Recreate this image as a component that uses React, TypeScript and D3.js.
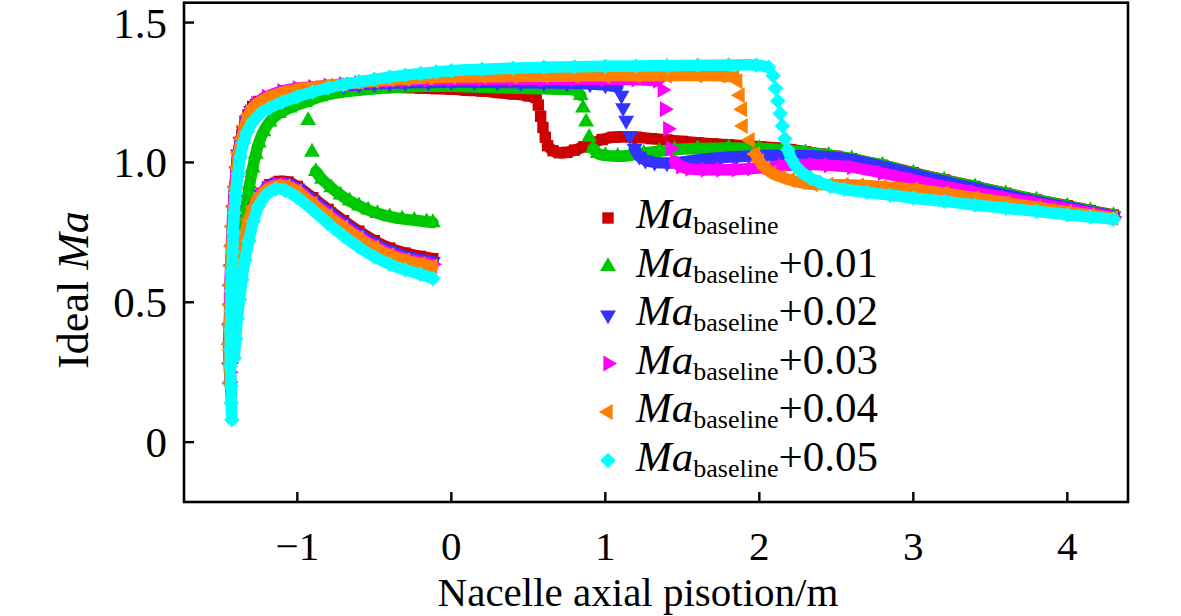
import React from 'react';
import * as d3 from 'd3';

type Pt = [number, number];

// ---- data (x: m, y: ideal Ma) ----
const X_TICKS = [-1, 0, 1, 2, 3, 4];
const X_TICK_LABELS = ['\u22121', '0', '1', '2', '3', '4'];
const Y_TICKS = [0, 0.5, 1.0, 1.5];
const Y_TICK_LABELS = ['0', '0.5', '1.0', '1.5'];
const LEGEND_SUFFIX = ['', '+0.01', '+0.02', '+0.03', '+0.04', '+0.05'];

const redPre: Pt[] = [[-1.43,0.18],[-1.435,0.25],[-1.435,0.32],[-1.435,0.39],[-1.435,0.46],[-1.43,0.53],[-1.43,0.6],[-1.425,0.67],[-1.42,0.74],[-1.415,0.81],[-1.41,0.88],[-1.4,0.95],[-1.39,1.01],[-1.375,1.06],[-1.36,1.1],[-1.34,1.14],[-1.32,1.17],[-1.29,1.2],[-1.25,1.218],[-1.2,1.23],[-1.1,1.245],[-1.0,1.255],[-0.9,1.26],[-0.8,1.263],[-0.7,1.266],[-0.6,1.268],[-0.5,1.27],[-0.4,1.27],[-0.3,1.268],[-0.2,1.266],[-0.1,1.264],[0,1.262],[0.1,1.258],[0.2,1.255],[0.3,1.25],[0.4,1.245],[0.5,1.238],[0.55,1.232]];
const redJump: Pt[] = [[0.565,1.205],[0.58,1.165],[0.595,1.125],[0.61,1.09]];
const redPost: Pt[] = [[0.625,1.06],[0.66,1.042],[0.7,1.035],[0.75,1.036],[0.8,1.044],[0.86,1.056],[0.92,1.07],[0.98,1.082],[1.05,1.09],[1.12,1.092],[1.2,1.09],[1.3,1.085],[1.4,1.08],[1.5,1.075],[1.6,1.07],[1.7,1.066],[1.8,1.063],[1.9,1.06],[2.0,1.056],[2.1,1.052],[2.2,1.046],[2.3,1.038],[2.4,1.03],[2.5,1.022],[2.6,1.013],[2.8,0.99],[3.0,0.963],[3.2,0.938],[3.4,0.914],[3.6,0.89],[3.8,0.866],[4.0,0.845],[4.15,0.828],[4.3,0.812]];
const redInner: Pt[] = [[-1.42,0.3],[-1.41,0.38],[-1.4,0.46],[-1.385,0.53],[-1.365,0.6],[-1.345,0.66],[-1.325,0.72],[-1.3,0.78],[-1.27,0.84],[-1.23,0.89],[-1.18,0.92],[-1.12,0.932],[-1.06,0.93],[-1.0,0.914],[-0.9,0.874],[-0.8,0.832],[-0.7,0.792],[-0.6,0.754],[-0.5,0.72],[-0.4,0.694],[-0.3,0.676],[-0.2,0.664],[-0.12,0.656]];

const greenPre: Pt[] = [[-1.395,0.5],[-1.385,0.57],[-1.372,0.64],[-1.36,0.71],[-1.345,0.78],[-1.33,0.85],[-1.31,0.92],[-1.29,0.98],[-1.27,1.03],[-1.25,1.07],[-1.22,1.11],[-1.18,1.145],[-1.12,1.175],[-1.05,1.195],[-0.95,1.215],[-0.85,1.235],[-0.75,1.248],[-0.6,1.258],[-0.45,1.265],[-0.3,1.27],[-0.15,1.272],[0,1.272],[0.15,1.27],[0.3,1.267],[0.45,1.265],[0.6,1.263],[0.7,1.262],[0.8,1.258],[0.84,1.24]];
const greenJump: Pt[] = [[0.855,1.195],[0.875,1.145],[0.895,1.09]];
const greenPost: Pt[] = [[0.92,1.05],[0.95,1.032],[1.0,1.025],[1.08,1.022],[1.16,1.025],[1.25,1.033],[1.35,1.04],[1.45,1.046],[1.6,1.05],[1.8,1.052],[2.0,1.05],[2.15,1.045],[2.3,1.036],[2.45,1.026],[2.6,1.013],[2.8,0.99],[3.0,0.962],[3.2,0.937],[3.4,0.913],[3.6,0.889],[3.8,0.866],[4.0,0.844],[4.15,0.827],[4.3,0.81]];
const greenInnerJump: Pt[] = [[-0.93,1.15],[-0.905,1.037]];
const greenInner: Pt[] = [[-0.88,0.968],[-0.84,0.94],[-0.78,0.91],[-0.72,0.884],[-0.66,0.862],[-0.6,0.845],[-0.54,0.83],[-0.48,0.818],[-0.4,0.806],[-0.32,0.798],[-0.24,0.793],[-0.16,0.788],[-0.12,0.785]];

const bluePre: Pt[] = [[-1.435,0.2],[-1.44,0.27],[-1.44,0.34],[-1.44,0.41],[-1.435,0.48],[-1.435,0.55],[-1.43,0.62],[-1.425,0.69],[-1.42,0.76],[-1.415,0.83],[-1.405,0.9],[-1.395,0.97],[-1.385,1.03],[-1.37,1.075],[-1.35,1.115],[-1.33,1.15],[-1.3,1.185],[-1.26,1.21],[-1.2,1.23],[-1.1,1.25],[-1.0,1.26],[-0.9,1.266],[-0.8,1.27],[-0.7,1.274],[-0.6,1.278],[-0.5,1.281],[-0.4,1.283],[-0.3,1.285],[-0.15,1.286],[0,1.287],[0.15,1.287],[0.3,1.286],[0.45,1.285],[0.6,1.284],[0.75,1.283],[0.9,1.28],[1.0,1.277],[1.08,1.27]];
const blueJump: Pt[] = [[1.105,1.24],[1.115,1.195],[1.135,1.15],[1.16,1.095]];
const bluePost: Pt[] = [[1.19,1.05],[1.22,1.022],[1.26,1.008],[1.32,1.0],[1.4,0.998],[1.48,1.0],[1.56,1.006],[1.65,1.012],[1.75,1.017],[1.85,1.02],[2.0,1.024],[2.15,1.026],[2.3,1.025],[2.45,1.02],[2.6,1.01],[2.8,0.986],[3.0,0.958],[3.2,0.932],[3.4,0.908],[3.6,0.884],[3.8,0.861],[4.0,0.84],[4.15,0.824],[4.3,0.808]];
const blueInner: Pt[] = [[-1.425,0.31],[-1.415,0.39],[-1.405,0.47],[-1.39,0.54],[-1.37,0.61],[-1.35,0.67],[-1.33,0.73],[-1.305,0.785],[-1.275,0.84],[-1.235,0.885],[-1.185,0.915],[-1.125,0.927],[-1.065,0.925],[-1.0,0.908],[-0.9,0.866],[-0.8,0.824],[-0.7,0.783],[-0.6,0.745],[-0.5,0.711],[-0.4,0.684],[-0.3,0.665],[-0.2,0.653],[-0.12,0.645]];

const magentaPre: Pt[] = [[-1.44,0.25],[-1.445,0.32],[-1.445,0.39],[-1.44,0.46],[-1.44,0.53],[-1.435,0.6],[-1.43,0.67],[-1.425,0.74],[-1.42,0.81],[-1.41,0.88],[-1.4,0.95],[-1.39,1.01],[-1.375,1.06],[-1.355,1.105],[-1.335,1.145],[-1.31,1.18],[-1.27,1.21],[-1.2,1.235],[-1.1,1.255],[-1.0,1.265],[-0.9,1.27],[-0.8,1.275],[-0.7,1.28],[-0.6,1.284],[-0.5,1.288],[-0.4,1.291],[-0.3,1.293],[-0.15,1.295],[0,1.296],[0.2,1.297],[0.4,1.297],[0.6,1.297],[0.8,1.297],[1.0,1.297],[1.2,1.296],[1.34,1.292]];
const magentaJump: Pt[] = [[1.37,1.26],[1.385,1.19],[1.405,1.12],[1.425,1.05]];
const magentaPost: Pt[] = [[1.45,1.005],[1.49,0.985],[1.55,0.977],[1.65,0.974],[1.75,0.974],[1.85,0.975],[1.95,0.978],[2.05,0.983],[2.15,0.988],[2.25,0.992],[2.35,0.993],[2.45,0.99],[2.6,0.983],[2.8,0.962],[3.0,0.938],[3.2,0.914],[3.4,0.894],[3.6,0.874],[3.8,0.854],[4.0,0.835],[4.15,0.82],[4.3,0.805]];
const magentaInner: Pt[] = [[-1.43,0.32],[-1.42,0.4],[-1.41,0.48],[-1.395,0.55],[-1.375,0.62],[-1.355,0.68],[-1.335,0.74],[-1.31,0.79],[-1.28,0.84],[-1.24,0.882],[-1.19,0.91],[-1.13,0.922],[-1.07,0.92],[-1.0,0.902],[-0.9,0.858],[-0.8,0.815],[-0.7,0.774],[-0.6,0.736],[-0.5,0.702],[-0.4,0.675],[-0.3,0.656],[-0.2,0.644],[-0.12,0.636]];

const orangePre: Pt[] = [[-1.435,0.21],[-1.44,0.28],[-1.44,0.35],[-1.44,0.42],[-1.435,0.49],[-1.435,0.56],[-1.43,0.63],[-1.425,0.7],[-1.42,0.77],[-1.41,0.84],[-1.4,0.91],[-1.39,0.98],[-1.38,1.035],[-1.36,1.085],[-1.34,1.13],[-1.315,1.17],[-1.28,1.2],[-1.22,1.225],[-1.1,1.25],[-1.0,1.262],[-0.9,1.268],[-0.8,1.275],[-0.7,1.28],[-0.6,1.286],[-0.5,1.291],[-0.4,1.295],[-0.3,1.298],[-0.15,1.302],[0,1.305],[0.2,1.306],[0.4,1.307],[0.6,1.308],[0.8,1.309],[1.0,1.31],[1.2,1.31],[1.4,1.31],[1.6,1.311],[1.75,1.31],[1.84,1.305]];
const orangeJump: Pt[] = [[1.86,1.29],[1.875,1.24],[1.89,1.19],[1.895,1.13],[1.94,1.08]];
const orangePost: Pt[] = [[1.975,1.03],[2.0,1.005],[2.04,0.98],[2.08,0.962],[2.14,0.948],[2.2,0.937],[2.27,0.928],[2.35,0.922],[2.45,0.92],[2.55,0.92],[2.65,0.918],[2.8,0.913],[3.0,0.905],[3.2,0.89],[3.4,0.874],[3.6,0.857],[3.8,0.84],[4.0,0.824],[4.15,0.812],[4.3,0.801]];
const orangeInner: Pt[] = [[-1.435,0.33],[-1.425,0.41],[-1.415,0.49],[-1.4,0.56],[-1.38,0.63],[-1.36,0.69],[-1.34,0.745],[-1.315,0.795],[-1.285,0.84],[-1.245,0.878],[-1.195,0.905],[-1.135,0.917],[-1.075,0.915],[-1.0,0.897],[-0.9,0.852],[-0.8,0.809],[-0.7,0.768],[-0.6,0.73],[-0.5,0.696],[-0.4,0.669],[-0.3,0.65],[-0.2,0.637],[-0.12,0.628]];

const cyanPre: Pt[] = [[-1.425,0.08],[-1.43,0.14],[-1.43,0.2],[-1.435,0.27],[-1.435,0.33],[-1.435,0.4],[-1.43,0.47],[-1.43,0.54],[-1.425,0.61],[-1.42,0.68],[-1.415,0.75],[-1.41,0.82],[-1.4,0.89],[-1.385,0.96],[-1.37,1.02],[-1.35,1.07],[-1.325,1.11],[-1.29,1.145],[-1.24,1.175],[-1.18,1.195],[-1.1,1.215],[-1.0,1.235],[-0.9,1.252],[-0.8,1.266],[-0.7,1.278],[-0.6,1.288],[-0.5,1.297],[-0.4,1.305],[-0.3,1.312],[-0.2,1.318],[-0.1,1.323],[0,1.328],[0.2,1.333],[0.4,1.337],[0.6,1.34],[0.8,1.342],[1.0,1.344],[1.2,1.345],[1.4,1.346],[1.6,1.347],[1.8,1.348],[1.98,1.348],[2.06,1.34]];
const cyanJump: Pt[] = [[2.09,1.31],[2.105,1.265],[2.12,1.22],[2.135,1.175],[2.15,1.13],[2.165,1.085]];
const cyanPost: Pt[] = [[2.185,1.045],[2.21,1.01],[2.24,0.985],[2.28,0.963],[2.33,0.945],[2.39,0.93],[2.46,0.915],[2.55,0.904],[2.7,0.893],[2.85,0.883],[3.0,0.873],[3.2,0.861],[3.4,0.848],[3.6,0.836],[3.8,0.825],[4.0,0.813],[4.15,0.805],[4.3,0.797]];
const cyanInner: Pt[] = [[-1.41,0.3],[-1.4,0.37],[-1.39,0.44],[-1.375,0.51],[-1.36,0.58],[-1.34,0.65],[-1.315,0.72],[-1.285,0.79],[-1.25,0.845],[-1.2,0.885],[-1.14,0.905],[-1.08,0.9],[-1.0,0.875],[-0.9,0.83],[-0.8,0.782],[-0.7,0.737],[-0.6,0.697],[-0.5,0.663],[-0.4,0.636],[-0.3,0.616],[-0.2,0.6],[-0.12,0.585]];

type Shape = 'square' | 'up' | 'down' | 'right' | 'left' | 'diamond';
interface Series { color: string; shape: Shape; curves: Pt[][]; jumps: Pt[][] }

const SERIES: Series[] = [
  { color: '#cc0000', shape: 'square', curves: [redPre, redPost, redInner], jumps: [redJump] },
  { color: '#00c800', shape: 'up', curves: [greenPre, greenPost, greenInner], jumps: [greenJump, greenInnerJump] },
  { color: '#3333ff', shape: 'down', curves: [bluePre, bluePost, blueInner], jumps: [blueJump] },
  { color: '#ff00ff', shape: 'right', curves: [magentaPre, magentaPost, magentaInner], jumps: [magentaJump] },
  { color: '#ff8000', shape: 'left', curves: [orangePre, orangePost, orangeInner], jumps: [orangeJump] },
  { color: '#00ffff', shape: 'diamond', curves: [cyanPre, cyanPost, cyanInner], jumps: [cyanJump] },
];

const W = 1181;
const H = 616;
const FONT = "'Liberation Serif', 'Times New Roman', Times, serif";

const x = d3.scaleLinear().domain([-1.736, 4.394]).range([184, 1128]);
const y = d3.scaleLinear().domain([-0.214, 1.571]).range([502, 2.7]);

const line = d3.line<Pt>().x(d => x(d[0])).y(d => y(d[1])).curve(d3.curveCatmullRom);

const squarePath = d3.symbol(d3.symbolSquare, 130)()!;
const triPath = d3.symbol(d3.symbolTriangle, 110)()!;
const diamondPath = d3.symbol(d3.symbolSquare, 120)()!;

function Marker({ shape, color, cx, cy }: { shape: Shape; color: string; cx: number; cy: number }) {
  let d = triPath;
  let rot = 0;
  if (shape === 'square') d = squarePath;
  else if (shape === 'diamond') { d = diamondPath; rot = 45; }
  else if (shape === 'down') rot = 180;
  else if (shape === 'right') rot = 90;
  else if (shape === 'left') rot = -90;
  return <path d={d} fill={color} transform={`translate(${cx},${cy}) rotate(${rot})`} />;
}

const App: React.FC = () => {
  const left = x.range()[0], right = x.range()[1];
  const top = y.range()[1], bottom = y.range()[0];

  return (
    <svg width={W} height={H} style={{ position: 'absolute', left: 0, top: 0, background: '#fff' }}
      fontFamily={FONT}>
      <rect width={W} height={H} fill="#fff" />

      {/* series */}
      {SERIES.map((s, i) => (
        <g key={i}>
          {s.curves.map((c, j) => (
            <path key={j} d={line(c)!} fill="none" stroke={s.color} strokeWidth={11.5}
              strokeLinecap="round" strokeLinejoin="round" />
          ))}
          {[...s.curves, ...s.jumps].flat().map((p, k) => (
            <Marker key={k} shape={s.shape} color={s.color} cx={x(p[0])} cy={y(p[1])} />
          ))}
        </g>
      ))}

      {/* frame */}
      <rect x={left} y={top} width={right - left} height={bottom - top} fill="none"
        stroke="#000" strokeWidth={2.6} />

      {/* x ticks */}
      {X_TICKS.map((t, i) => (
        <g key={i}>
          <line x1={x(t)} x2={x(t)} y1={bottom} y2={bottom - 10} stroke="#000" strokeWidth={2.4} />
          <text x={x(t)} y={560} textAnchor="middle" fontSize={41}>{X_TICK_LABELS[i]}</text>
        </g>
      ))}

      {/* y ticks */}
      {Y_TICKS.map((t, i) => (
        <g key={i}>
          <line x1={left} x2={left + 10} y1={y(t)} y2={y(t)} stroke="#000" strokeWidth={2.4} />
          <text x={167} y={y(t) + 15} textAnchor="end" fontSize={43}>{Y_TICK_LABELS[i]}</text>
        </g>
      ))}

      {/* axis titles */}
      <text x={638} y={606} textAnchor="middle" fontSize={41}>Nacelle axial pisotion/m</text>
      <text transform="translate(88,290) rotate(-90)" textAnchor="middle" fontSize={44}>
        Ideal <tspan fontStyle="italic">Ma</tspan>
      </text>

      {/* legend */}
      {SERIES.map((s, i) => {
        const cy = 218 + i * 48.5;
        return (
          <g key={i}>
            <Marker shape={s.shape} color={s.color} cx={608} cy={cy} />
            <text x={636} y={cy + 10} fontSize={43}>
              <tspan fontStyle="italic">Ma</tspan>
              <tspan fontSize={26} dy={6}>baseline</tspan>
              {LEGEND_SUFFIX[i] && <tspan dy={-6}>{LEGEND_SUFFIX[i]}</tspan>}
            </text>
          </g>
        );
      })}
    </svg>
  );
};

export default App;
